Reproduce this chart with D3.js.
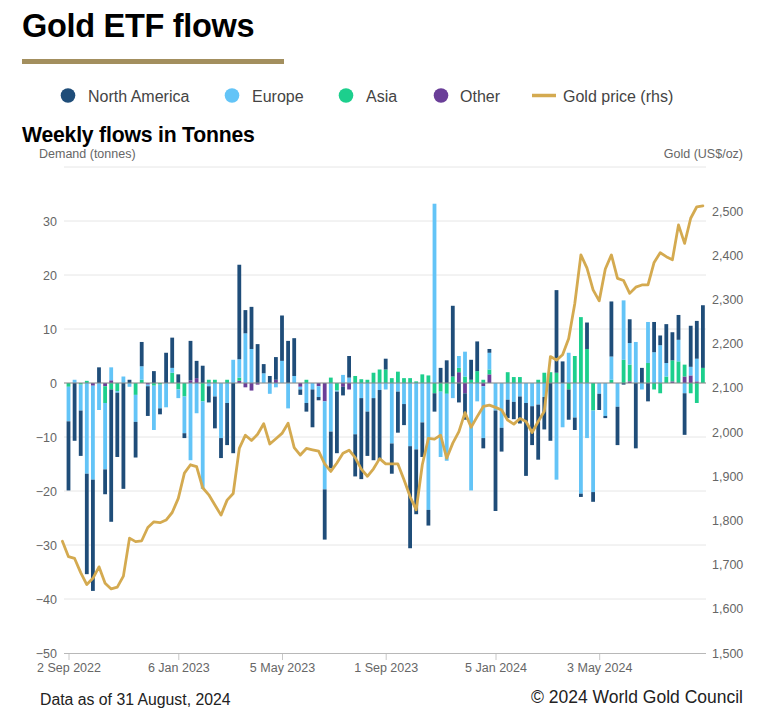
<!DOCTYPE html>
<html><head><meta charset="utf-8">
<script src="https://cdn.jsdelivr.net/npm/d3@7"></script>
<style>
body{margin:0;background:#fff}
svg{display:block;font-family:"Liberation Sans",Arial,Helvetica,sans-serif}
</style></head>
<body><svg id="c" width="770" height="720"></svg>
<script>
// ---- data ----
const seriesNames = ["North America", "Europe", "Asia", "Other"];
const firstWeek = new Date(2022, 8, 2);   // 2 Sep 2022
const firstPriceWeek = new Date(2022, 7, 26); // 26 Aug 2022
const tickDates = [new Date(2022,8,2), new Date(2023,0,6), new Date(2023,4,5),
                   new Date(2023,8,1), new Date(2024,0,5), new Date(2024,4,3)];
const leftTicks = [-50,-40,-30,-20,-10,0,10,20,30];
const gridTicks = [-40,-30,-20,-10,0,10,20,30,40];
const rightTicks = [1500,1600,1700,1800,1900,2000,2100,2200,2300,2400,2500];

const northAmerica = [-12.8,-10.7,-8.4,-18.6,-20.6,2.9,-4.6,-24.5,-11.9,-19.6,
0.6,-6.6,4.5,-5.5,2.2,-1.1,5.6,5.6,1.6,-0.9,
7.3,3.2,3.2,-3.0,-5.9,-3.7,-7.8,-13.0,17.5,4.3,
7.8,7.2,1.7,1.3,4.2,8.4,7.8,7.0,-1.0,-1.6,
-7.0,-0.6,-9.3,-6.8,-11.4,-1.6,4.0,-7.8,-15.0,-8.2,
-11.5,-13.0,2.0,-5.6,-7.6,-3.9,-18.9,-12.0,-6.4,-2.9,
-3.4,2.8,4.2,13.1,-3.6,-4.9,3.7,5.5,-1.9,0.7,
-18.6,-4.4,-3.4,-3.2,-5.0,-13.5,-7.2,-10.2,-6.0,-10.7,
15.3,4.0,-5.6,-2.3,-0.6,4.9,-1.8,-3.0,-0.4,10.2,
-7.1,-0.3,4.4,-12.1,2.8,-3.4,5.6,1.8,7.2,5.2,
4.6,-7.7,7.6,7.0,11.6];

const europe = [-6.4,0.6,-4.8,-16.8,-17.4,-5.0,-12.3,2.4,-0.3,1.2,
-0.7,-5.0,2.5,-0.3,-8.2,-4.4,-4.5,0.9,-1.6,-6.8,
-14.3,-5.6,-16.2,-0.6,-2.5,-10.2,-3.7,4.3,3.4,9.2,
6.3,0,1.8,-2.0,-0.8,4.1,-4.7,1.3,-0.5,-3.7,
-1.2,-2.0,-16.3,-9.0,-0.2,1.5,1.0,-9.5,-2.8,-5.3,
-2.8,-1.3,-1.2,-11.2,-1.6,-3.9,-11.7,-12.3,-7.3,-23.5,
33.2,-12.1,-12.4,-2.8,2.2,4.6,-19.9,-3.4,-9.6,3.1,
-5.1,-8.3,-3.1,-3.5,-2.5,-3.7,-4.3,-4.0,-2.6,0,
-17.9,-8.2,5.6,-6.4,-20.5,-10.2,-15.1,-2.0,-6.1,4.3,
-4.4,11.0,4.0,7.6,-1.2,7.6,5.7,7.0,2.5,0,
4.0,-1.9,1.6,4.2,0];

const asia = [-0.7,0,-0.3,0.4,0,0,-3.1,-1.2,-1.5,0,
0,-2.2,0.6,0,-0.5,-0.3,0,1.9,-1.2,-2.5,
0,0,-3.4,0.6,0.6,0,0.6,0,0.6,0,
0,0,0,0,0,0,0,0,0,0.6,
0,0,0,1.0,-1.4,0,0,1.3,0.7,0.6,
1.9,2.5,2.5,0.9,2.1,0.9,0.9,0.3,1.6,1.4,
-1.9,-1.6,-2.0,1.2,0.8,1.2,0.6,2.2,0.6,0.9,
0,0,2.0,1.1,1.1,0,0,0.6,1.9,2.0,
1.9,0,-1.2,5.0,12.2,6.3,-5.1,0,0,0.6,
0,4.3,3.1,0,0,3.7,-1.2,-1.9,1.2,3.9,
4.0,2.2,-1.9,-3.7,2.8];

const other = [0,0,0,0,-0.5,0,-0.6,0.5,0,0,
0,0,0,-0.3,0,0,0,0,0,0,
0.5,0.9,0,0,0,0,0,0,0.4,-0.8,
-1.4,-0.3,0,0,0.6,0,0,0,-0.7,0,
0,-0.6,-3.4,0,0,-0.7,-1.2,0,0,0,
0,0,0,0,0,0,0,0,0,0,
0,0,0,0,2.0,-1.9,0,0,-0.6,1.6,
0,0,0,0,0,0,0,0,0,0,
0,0,0,0,0,0,0,0,0,0,
0,0,0.3,0,0,0,0,0,0,0.3,
0,1.2,1.4,0.3,0];

const goldPrice = [1753,
1718,1714,1682,1655,1669,1695,1658,1645,1649,1674,
1760,1752,1754,1784,1797,1795,1801,1818,1850,1907,
1926,1922,1874,1858,1835,1812,1846,1861,1963,1993,
1981,1995,2019,1973,1985,1997,2020,1965,1948,1963,
1960,1957,1928,1911,1930,1952,1959,1942,1916,1900,
1917,1940,1928,1928,1928,1892,1854,1824,1926,1986,
1984,1993,1941,1975,2001,2044,2011,2035,2058,2061,
2056,2050,2027,2018,2031,2024,1999,2024,2047,2171,
2163,2175,2212,2291,2401,2371,2322,2297,2369,2401,
2348,2343,2314,2328,2333,2333,2384,2406,2397,2390,
2469,2427,2484,2510,2512];

const colors = {"North America":"#1f4d79","Europe":"#63c4f7","Asia":"#1dcf8d","Other":"#6a3e98"};
const goldColor = "#d4aa50";

// ---- build tables ----
const weeks = northAmerica.map((_, i) => d3.timeDay.offset(firstWeek, 7 * i));
const rows = weeks.map((d, i) => ({date: d, "North America": northAmerica[i], "Europe": europe[i], "Asia": asia[i], "Other": other[i]}));
const priceRows = goldPrice.map((v, i) => ({date: d3.timeDay.offset(firstPriceWeek, 7 * i), value: v}));

const svg = d3.select("#c");
const plotL = 64, plotR = 706, plotT = 167, plotB = 653;

const x = d3.scaleTime().domain([firstPriceWeek, weeks[weeks.length - 1]]).range([62.4, 702.9]);
const y = d3.scaleLinear().domain([-50, 40]).range([plotB, plotT]);
const yR = d3.scaleLinear().domain([1500, 2600]).range([plotB, plotT]);

// ---- headings ----
svg.append("text").attr("x", 22).attr("y", 37).attr("font-size", 32.5).attr("font-weight", "bold")
  .attr("fill", "#000").attr("letter-spacing", -0.3).text("Gold ETF flows");
svg.append("rect").attr("x", 22).attr("y", 59).attr("width", 262).attr("height", 5).attr("fill", "#a38f5e");

// legend
const legendItems = [
  {name: "North America", cx: 68, tx: 88},
  {name: "Europe", cx: 232, tx: 252},
  {name: "Asia", cx: 346, tx: 366},
  {name: "Other", cx: 441, tx: 460}
];
const lg = svg.append("g");
legendItems.forEach(it => {
  lg.append("circle").attr("cx", it.cx).attr("cy", 95.5).attr("r", 7.3).attr("fill", colors[it.name]);
  lg.append("text").attr("x", it.tx).attr("y", 101.5).attr("font-size", 16).attr("fill", "#444").text(it.name);
});
lg.append("line").attr("x1", 532).attr("x2", 556).attr("y1", 95.5).attr("y2", 95.5)
  .attr("stroke", goldColor).attr("stroke-width", 3.5);
lg.append("text").attr("x", 563).attr("y", 101.5).attr("font-size", 16).attr("fill", "#444").text("Gold price (rhs)");

svg.append("text").attr("x", 22).attr("y", 142).attr("font-size", 21.2).attr("font-weight", "bold")
  .attr("fill", "#000").attr("letter-spacing", -0.2).text("Weekly flows in Tonnes");
svg.append("text").attr("x", 39).attr("y", 158).attr("font-size", 12.5).attr("fill", "#666").text("Demand (tonnes)");
svg.append("text").attr("x", 743).attr("y", 158).attr("font-size", 12.5).attr("fill", "#666")
  .attr("text-anchor", "end").text("Gold (US$/oz)");

// ---- grid ----
svg.append("g").selectAll("line").data(gridTicks).join("line")
  .attr("x1", plotL).attr("x2", plotR).attr("y1", d => y(d)).attr("y2", d => y(d))
  .attr("stroke", "#e6e6e6").attr("stroke-width", 1);

// ---- axes ----
const gL = svg.append("g").attr("transform", `translate(${plotL},0)`)
  .call(d3.axisLeft(y).tickValues(leftTicks).tickSize(0).tickPadding(7));
gL.select(".domain").remove();
gL.selectAll("text").attr("font-size", 12.5).attr("fill", "#666").attr("font-family", "Liberation Sans, Arial, sans-serif");

const gR = svg.append("g").attr("transform", `translate(${plotR},0)`)
  .call(d3.axisRight(yR).tickValues(rightTicks).tickFormat(d3.format(",")).tickSize(0).tickPadding(6));
gR.select(".domain").remove();
gR.selectAll("text").attr("font-size", 12.5).attr("fill", "#666").attr("font-family", "Liberation Sans, Arial, sans-serif");

const gB = svg.append("g").attr("transform", `translate(0,${plotB})`)
  .call(d3.axisBottom(x).tickValues(tickDates).tickFormat(d3.timeFormat("%-d %b %Y")).tickSize(7).tickSizeOuter(0).tickPadding(3));
gB.select(".domain").remove();
gB.selectAll(".tick line").attr("stroke", "#c8c8c8");
gB.selectAll("text").attr("font-size", 12.5).attr("fill", "#666").attr("font-family", "Liberation Sans, Arial, sans-serif");
svg.append("line").attr("x1", plotL).attr("x2", plotR).attr("y1", plotB + 0.5).attr("y2", plotB + 0.5)
  .attr("stroke", "#b8b8b8").attr("stroke-width", 1);

// ---- bars ----
const stack = d3.stack().keys(["Other", "Asia", "Europe", "North America"]).offset(d3.stackOffsetDiverging);
const layers = stack(rows);
const bw = 3.8;
svg.append("g").selectAll("g").data(layers).join("g")
  .attr("fill", d => colors[d.key])
  .selectAll("rect").data(d => d).join("rect")
  .attr("x", d => x(d.data.date) - bw / 2)
  .attr("width", bw)
  .attr("y", d => y(Math.max(d[0], d[1])))
  .attr("height", d => Math.abs(y(d[0]) - y(d[1])));

// zero line
svg.append("line").attr("x1", plotL).attr("x2", plotR).attr("y1", y(0)).attr("y2", y(0))
  .attr("stroke", "#8c8c8c").attr("stroke-width", 1);

// ---- gold price line ----
svg.append("path").datum(priceRows)
  .attr("fill", "none").attr("stroke", goldColor).attr("stroke-width", 2.8)
  .attr("stroke-linejoin", "round").attr("stroke-linecap", "round")
  .attr("d", d3.line().x(d => x(d.date)).y(d => yR(d.value)));

// ---- footer ----
svg.append("text").attr("x", 40).attr("y", 705).attr("font-size", 15.8).attr("fill", "#222").text("Data as of 31 August, 2024");
svg.append("text").attr("x", 743).attr("y", 703).attr("font-size", 17.5).attr("fill", "#222")
  .attr("text-anchor", "end").text("\u00a9 2024 World Gold Council");
</script></body></html>
